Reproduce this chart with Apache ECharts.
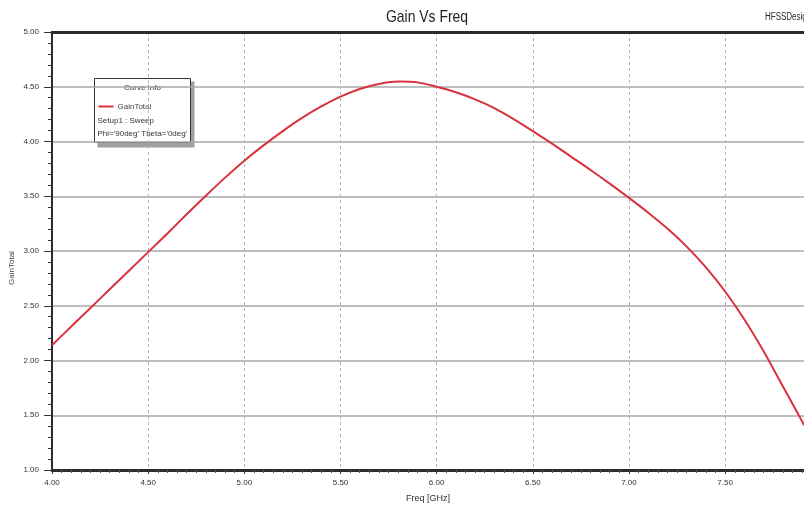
<!DOCTYPE html>
<html>
<head>
<meta charset="utf-8">
<script src="https://cdn.jsdelivr.net/npm/echarts@6/dist/echarts.min.js"></script>
<style>
  html, body { margin: 0; padding: 0; background: #ffffff; }
  #chart { width: 804px; height: 514px; }
</style>
</head>
<body>
<div id="chart"></div>
<script>
// Swept frequency (GHz) and total gain of the antenna
const freqGHz = [4.0, 4.1, 4.2, 4.3, 4.4, 4.5, 4.6, 4.7, 4.8, 4.9,
                 5.0, 5.1, 5.2, 5.3, 5.4, 5.5, 5.6, 5.7, 5.8, 5.9,
                 6.0, 6.1, 6.2, 6.3, 6.4, 6.5, 6.6, 6.7, 6.8, 6.9,
                 7.0, 7.1, 7.2, 7.3, 7.4, 7.5, 7.6, 7.7, 7.8, 7.9, 7.91];
const gainTotal = [2.14, 2.31, 2.48, 2.65, 2.82, 2.99, 3.16, 3.335, 3.505, 3.67,
                   3.825, 3.965, 4.095, 4.215, 4.32, 4.41, 4.48, 4.525, 4.547, 4.54,
                   4.50, 4.45, 4.385, 4.305, 4.205, 4.095, 3.98, 3.86, 3.74, 3.615,
                   3.485, 3.35, 3.205, 3.04, 2.85, 2.63, 2.375, 2.085, 1.765, 1.445, 1.41];

const seriesName = 'GainTotal';
const legendLines = ['Setup1 : Sweep', "Phi='90deg' Theta='0deg'"];
const chartTitle = 'Gain Vs Freq';
const designName = 'HFSSDesign1';
const xName = 'Freq [GHz]';
const yName = 'GainTotal';

const FONT = "'Liberation Sans', Arial, sans-serif";
const LINE_RED = '#d9323f';

const chart = echarts.init(document.getElementById('chart'));

chart.setOption({
  backgroundColor: '#ffffff',
  animation: false,
  grid: { left: 52, right: 0, top: 32, bottom: 44, containLabel: false, outerBoundsMode: 'none' },
  xAxis: [
    {
      type: 'value', min: 4.0, max: 7.91, interval: 0.5,
      name: xName, nameLocation: 'middle', nameGap: 24,
      nameTextStyle: { fontFamily: FONT, fontSize: 9, color: '#333' },
      axisLine: { show: true, lineStyle: { color: '#2b2b2b', width: 3 } },
      axisTick: { show: true, length: 4, lineStyle: { color: '#333', width: 1 } },
      minorTick: { show: true, splitNumber: 10, length: 3, lineStyle: { color: '#555' } },
      axisLabel: {
        showMaxLabel: false, margin: 9, fontFamily: FONT, fontSize: 8, color: '#333',
        formatter: v => v.toFixed(2)
      },
      splitLine: { show: true, lineStyle: { color: '#b4b4b4', width: 1, type: [3, 3] } },
      minorSplitLine: { show: false }
    },
    {
      type: 'value', min: 4.0, max: 7.91, position: 'top',
      axisLine: { show: true, lineStyle: { color: '#2b2b2b', width: 3 } },
      axisTick: { show: false }, axisLabel: { show: false }, splitLine: { show: false }
    }
  ],
  yAxis: {
    type: 'value', min: 1.0, max: 5.0, interval: 0.5,
    axisLine: { show: true, lineStyle: { color: '#2b2b2b', width: 2 } },
    axisTick: { show: true, length: 8, lineStyle: { color: '#333', width: 1 } },
    minorTick: { show: true, splitNumber: 5, length: 4, lineStyle: { color: '#333' } },
    axisLabel: { margin: 13, fontFamily: FONT, fontSize: 8, color: '#333', formatter: v => v.toFixed(2) },
    splitLine: { show: true, lineStyle: { color: '#a8a8a8', width: 1.5 } }
  },
  series: [
    {
      name: seriesName, type: 'line', xAxisIndex: 0,
      data: freqGHz.map((f, i) => [f, gainTotal[i]]),
      smooth: 0.3, showSymbol: false, clip: true,
      lineStyle: { color: LINE_RED, width: 2 },
      z: 5
    }
  ],
  graphic: [
    // Title, design name and y-axis name in a condensed face
    {
      type: 'text', x: 427, y: 17, scaleX: 0.82, originX: 0, originY: 0,
      style: { text: chartTitle, align: 'center', verticalAlign: 'middle',
               fontFamily: FONT, fontSize: 17, fill: '#1e1e1e' }
    },
    {
      type: 'text', x: 765, y: 17, scaleX: 0.8, originX: 0, originY: 0,
      style: { text: designName, align: 'left', verticalAlign: 'middle',
               fontFamily: FONT, fontSize: 10, fill: '#2a2a2a' }
    },
    {
      type: 'text', x: 12, y: 268, rotation: Math.PI / 2, originX: 0, originY: 0,
      style: { text: yName, align: 'center', verticalAlign: 'middle',
               fontFamily: FONT, fontSize: 8, fill: '#444' }
    },
    {
      // Curve info box
      type: 'group', left: 94, top: 78,
      children: [
        { type: 'rect', shape: { x: 3, y: 3, width: 97, height: 66 }, style: { fill: '#a0a0a0' } },
        { type: 'rect', shape: { x: 0, y: 0, width: 96, height: 64 }, style: { fill: '#ffffff', stroke: '#333', lineWidth: 1 } },
        { type: 'text', x: 48, y: 5, style: { text: 'Curve Info', align: 'center', fontFamily: FONT, fontSize: 8, fill: '#333' } },
        { type: 'line', shape: { x1: 4, y1: 28, x2: 19, y2: 28 }, style: { stroke: LINE_RED, lineWidth: 2 } },
        { type: 'text', x: 23, y: 24, style: { text: seriesName, fontFamily: FONT, fontSize: 8, fill: '#444' } },
        { type: 'text', x: 3, y: 38, style: { text: legendLines[0], fontFamily: FONT, fontSize: 8, fill: '#333' } },
        { type: 'text', x: 3, y: 51, style: { text: legendLines[1], fontFamily: FONT, fontSize: 8, fill: '#333' } }
      ]
    }
  ]
});
</script>
</body>
</html>
